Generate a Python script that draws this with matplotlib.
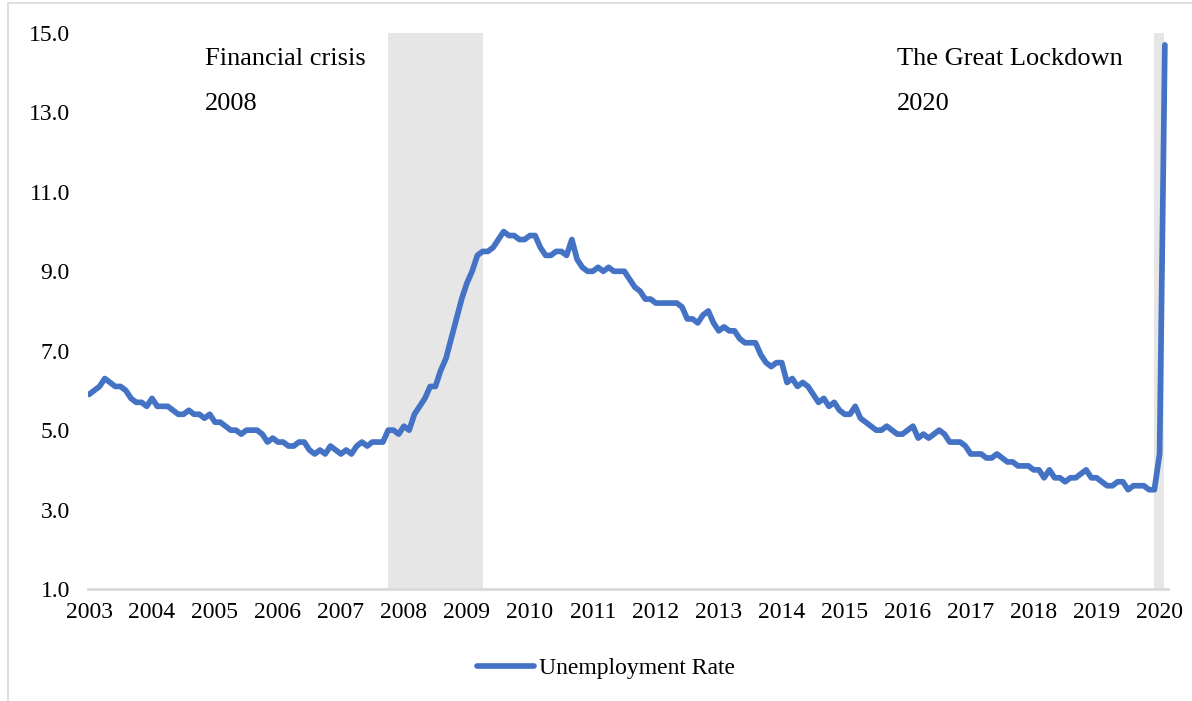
import matplotlib
matplotlib.use("Agg")
import matplotlib.pyplot as plt
from matplotlib.patches import Rectangle
import pandas as pd

# monthly unemployment rate, Mar 2003 - Apr 2020 (%)
start_month = "2003-03"
end_month = "2020-04"
rate = [
    5.9, 6.0, 6.1, 6.3, 6.2, 6.1, 6.1, 6.0, 5.8, 5.7,
    5.7, 5.6, 5.8, 5.6, 5.6, 5.6, 5.5, 5.4, 5.4, 5.5, 5.4, 5.4,
    5.3, 5.4, 5.2, 5.2, 5.1, 5.0, 5.0, 4.9, 5.0, 5.0, 5.0, 4.9,
    4.7, 4.8, 4.7, 4.7, 4.6, 4.6, 4.7, 4.7, 4.5, 4.4, 4.5, 4.4,
    4.6, 4.5, 4.4, 4.5, 4.4, 4.6, 4.7, 4.6, 4.7, 4.7, 4.7, 5.0,
    5.0, 4.9, 5.1, 5.0, 5.4, 5.6, 5.8, 6.1, 6.1, 6.5, 6.8, 7.3,
    7.8, 8.3, 8.7, 9.0, 9.4, 9.5, 9.5, 9.6, 9.8, 10.0, 9.9, 9.9,
    9.8, 9.8, 9.9, 9.9, 9.6, 9.4, 9.4, 9.5, 9.5, 9.4, 9.8, 9.3,
    9.1, 9.0, 9.0, 9.1, 9.0, 9.1, 9.0, 9.0, 9.0, 8.8, 8.6, 8.5,
    8.3, 8.3, 8.2, 8.2, 8.2, 8.2, 8.2, 8.1, 7.8, 7.8, 7.7, 7.9,
    8.0, 7.7, 7.5, 7.6, 7.5, 7.5, 7.3, 7.2, 7.2, 7.2, 6.9, 6.7,
    6.6, 6.7, 6.7, 6.2, 6.3, 6.1, 6.2, 6.1, 5.9, 5.7, 5.8, 5.6,
    5.7, 5.5, 5.4, 5.4, 5.6, 5.3, 5.2, 5.1, 5.0, 5.0, 5.1, 5.0,
    4.9, 4.9, 5.0, 5.1, 4.8, 4.9, 4.8, 4.9, 5.0, 4.9, 4.7, 4.7,
    4.7, 4.6, 4.4, 4.4, 4.4, 4.3, 4.3, 4.4, 4.3, 4.2, 4.2, 4.1,
    4.1, 4.1, 4.0, 4.0, 3.8, 4.0, 3.8, 3.8, 3.7, 3.8, 3.8, 3.9,
    4.0, 3.8, 3.8, 3.7, 3.6, 3.6, 3.7, 3.7, 3.5, 3.6, 3.6, 3.6,
    3.5, 3.5, 4.4, 14.7,
]
crises = [("2007-12", "2009-06"), ("2020-02", "2020-04")]
notes = [("Financial crisis", "2008", "2005-01"), ("The Great Lockdown", "2020", "2016-01")]
y_ticks = [1.0, 3.0, 5.0, 7.0, 9.0, 11.0, 13.0, 15.0]

months = pd.period_range(start_month, end_month, freq="M")
x = list(range(len(months)))
blue = "#4472C4"
font = "Liberation Serif"

fig = plt.figure(figsize=(11.92, 7.01), dpi=100)
ax = fig.add_axes([88 / 1192, 1 - 589 / 701, 1080 / 1192, 556 / 701])

for a, b in crises:
    end = months.get_loc(pd.Period(b, "M"))
    if end == len(months) - 1:
        end -= 0.2
    ax.axvspan(months.get_loc(pd.Period(a, "M")), end, color="#E7E6E6", lw=0, zorder=0)

ax.plot(x, rate, color=blue, lw=4.1, solid_capstyle="round", label="Unemployment Rate", zorder=3)

ax.set_xlim(-0.2, len(months) - 0.4)
ax.set_ylim(1, 15)
ax.set_yticks(y_ticks)
ax.set_yticklabels([f"{v:.1f}" for v in y_ticks])
ticks = [i for i, m in enumerate(months) if m.month == 3]
ax.set_xticks(ticks)
ax.set_xticklabels([str(months[i].year) for i in ticks])
ax.tick_params(length=0, labelsize=17)
ax.tick_params(axis="y", pad=13)
ax.tick_params(axis="x", pad=9)
for lab in ax.get_xticklabels() + ax.get_yticklabels():
    lab.set_fontfamily(font)

for side in ["top", "right", "left"]:
    ax.spines[side].set_visible(False)
ax.spines["bottom"].set_color("#D9D9D9")
ax.spines["bottom"].set_linewidth(2)

for title, year, at in notes:
    xi = months.get_loc(pd.Period(at, "M"))
    ax.text(xi, 14.35, title, fontsize=19, family=font, va="center", ha="left")
    ax.text(xi, 13.2, year, fontsize=19, family=font, va="center", ha="left")

leg = fig.legend(loc="center", bbox_to_anchor=(606 / 1192, 1 - 668 / 701), frameon=False,
                 prop={"family": font, "size": 17}, handlelength=2.4, handletextpad=0.2)

fig.patches.append(Rectangle((8 / 1192, -0.1), 1.2, 1 - 3 / 701 + 0.1, transform=fig.transFigure,
                             fill=False, edgecolor="#D9D9D9", lw=1.2))

fig.savefig("out.png", dpi=100)
